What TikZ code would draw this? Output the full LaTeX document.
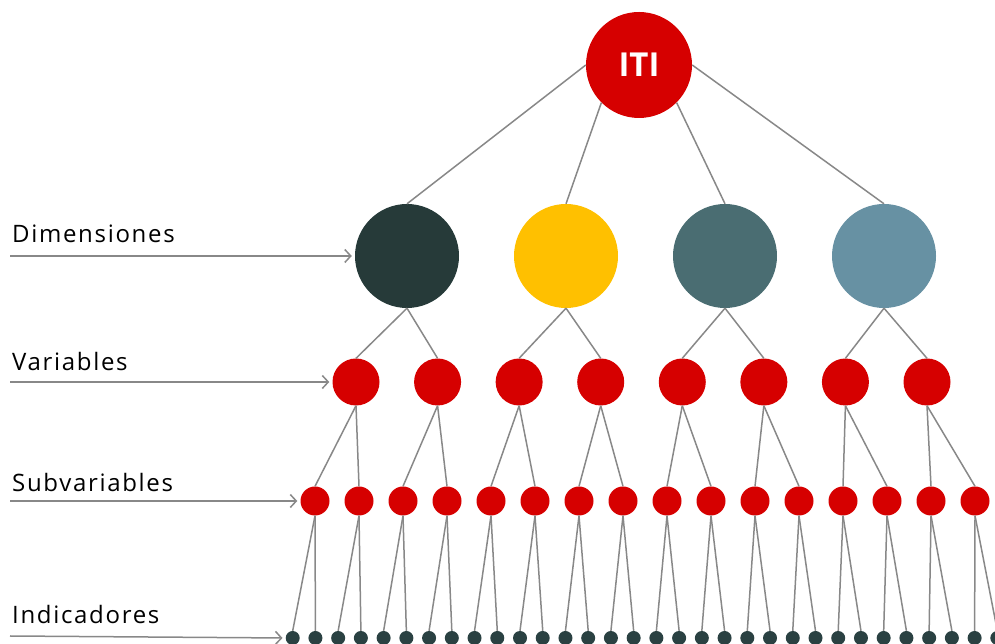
\documentclass[tikz,border=0pt]{standalone}
\usepackage{fontspec}
\setmainfont{Open Sans}
\usetikzlibrary{arrows.meta,positioning}

\definecolor{itired}{HTML}{D60000}
\definecolor{linkgray}{HTML}{888888}
\definecolor{dimdark}{HTML}{263A39}
\definecolor{dimyellow}{HTML}{FFC000}
\definecolor{dimteal}{HTML}{4A6D72}
\definecolor{dimblue}{HTML}{6791A3}
\definecolor{inddark}{HTML}{2A4142}

\begin{document}
\begin{tikzpicture}[
    x=1pt,y=1pt,
    ball/.style={circle,inner sep=0pt,minimum size=#1},
    link/.style={draw=linkgray,line width=1.5pt},
    arrow/.style={-{Straight Barb[length=6pt,width=13pt]},draw=linkgray,line width=1.5pt,shorten >=3pt},
    lbl/.style={anchor=base west,inner sep=0pt,font=\fontsize{24}{28}\selectfont\addfontfeature{LetterSpace=7}}
]
\useasboundingbox (0,0) rectangle (995,644);

% Root
\node[ball=106,fill=itired,text=white,font=\fontsize{33}{36}\selectfont\bfseries] (iti) at (639,579) {ITI};

% Dimensions
\node[ball=104,fill=dimdark]   (dim1) at (407,388) {};
\node[ball=104,fill=dimyellow] (dim2) at (566,388) {};
\node[ball=104,fill=dimteal]   (dim3) at (725,388) {};
\node[ball=104,fill=dimblue]   (dim4) at (884,388) {};

% Variables, subvariables and indicators
\foreach \k in {1,...,8}
  \node[ball=47,fill=itired] (var\k) at ({356+81.57*(\k-1)},262) {};
\foreach \k in {1,...,16}
  \node[ball=29,fill=itired] (sub\k) at ({315+44*(\k-1)},143) {};
\foreach \k in {1,...,32}
  \node[ball=14,fill=inddark] (ind\k) at ({292.7+22.73*(\k-1)},6) {};

% Links
\draw[link] (iti.west) -- (dim1.north);
\draw[link] (iti.south west) -- (dim2.north);
\draw[link] (iti.south east) -- (dim3.north);
\draw[link] (iti.east) -- (dim4.north);
\foreach \k [evaluate=\k as \p using {int(ceil(\k/2))}] in {1,...,8}
  \draw[link] (dim\p.south) -- (var\k.north);
\foreach \k [evaluate=\k as \p using {int(ceil(\k/2))}] in {1,...,16}
  \draw[link] (var\p.south) -- (sub\k.north);
\foreach \k [evaluate=\k as \p using {int(ceil(\k/2))}] in {1,...,32}
  \draw[link] (sub\p.south) -- (ind\k.north);

% Level labels
\node[lbl] (ldim) at (12,401) {Dimensiones};
\node[lbl] (lvar) at (12,273) {Variables};
\node[lbl] (lsub) at (12,152) {Subvariables};
\node[lbl] (lind) at (12,20) {Indicadores};

\coordinate (sdim) at (10,388);
\coordinate (svar) at (10,262);
\coordinate (ssub) at (10,143);
\coordinate (sind) at (10,8);

\draw[arrow] (sdim) -- (dim1.west);
\draw[arrow] (svar) -- (var1.west);
\draw[arrow] (ssub) -- (sub1.west);
\draw[arrow] (sind) -- (ind1.west);

\end{tikzpicture}
\end{document}
